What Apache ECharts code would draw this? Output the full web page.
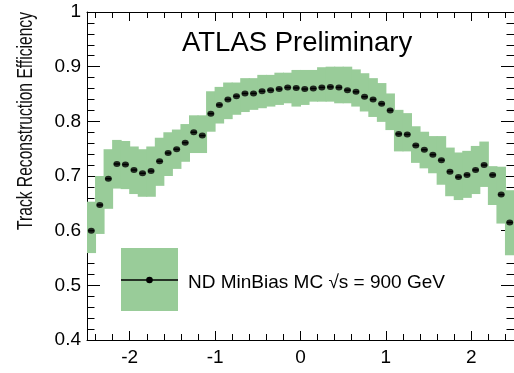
<!DOCTYPE html>
<html>
<head>
<meta charset="utf-8">
<script src="https://cdn.jsdelivr.net/npm/echarts@6.0.0/dist/echarts.min.js"></script>
<style>
  html, body { margin: 0; padding: 0; background: #fff; }
  #chart { width: 514px; height: 373px; }
</style>
</head>
<body>
<div id="chart"></div>
<script>
// eta bin centres
const etaBins = [
  -2.45, -2.35, -2.25, -2.15, -2.05, -1.95, -1.85, -1.75, -1.65, -1.55,
  -1.45, -1.35, -1.25, -1.15, -1.05, -0.95, -0.85, -0.75, -0.65, -0.55,
  -0.45, -0.35, -0.25, -0.15, -0.05, 0.05, 0.15, 0.25, 0.35, 0.45,
  0.55, 0.65, 0.75, 0.85, 0.95, 1.05, 1.15, 1.25, 1.35, 1.45,
  1.55, 1.65, 1.75, 1.85, 1.95, 2.05, 2.15, 2.25, 2.35, 2.45
];
const efficiency = [
  0.600, 0.647, 0.695, 0.722, 0.721, 0.711, 0.705, 0.709, 0.727, 0.742,
  0.749, 0.761, 0.780, 0.774, 0.814, 0.830, 0.840, 0.846, 0.851, 0.851,
  0.855, 0.857, 0.859, 0.862, 0.861, 0.859, 0.860, 0.862, 0.863, 0.862,
  0.857, 0.854, 0.845, 0.840, 0.832, 0.820, 0.777, 0.776, 0.756, 0.748,
  0.739, 0.729, 0.708, 0.698, 0.702, 0.711, 0.720, 0.702, 0.666, 0.615
];
// systematic band (upper / lower edge per bin)
const bandUpper = [
  0.653, 0.700, 0.749, 0.766, 0.764, 0.754, 0.749, 0.754, 0.770, 0.780,
  0.785, 0.795, 0.811, 0.811, 0.855, 0.863, 0.871, 0.871, 0.879, 0.879,
  0.885, 0.885, 0.889, 0.889, 0.894, 0.894, 0.894, 0.899, 0.900, 0.900,
  0.900, 0.895, 0.888, 0.879, 0.870, 0.851, 0.821, 0.815, 0.791, 0.781,
  0.773, 0.773, 0.752, 0.743, 0.746, 0.755, 0.763, 0.718, 0.717, 0.674
];
const bandLower = [
  0.559, 0.594, 0.640, 0.677, 0.676, 0.667, 0.662, 0.662, 0.682, 0.700,
  0.713, 0.726, 0.742, 0.742, 0.781, 0.796, 0.804, 0.812, 0.817, 0.821,
  0.824, 0.827, 0.830, 0.833, 0.827, 0.830, 0.836, 0.836, 0.836, 0.833,
  0.833, 0.827, 0.818, 0.808, 0.799, 0.784, 0.745, 0.745, 0.724, 0.714,
  0.705, 0.684, 0.663, 0.656, 0.660, 0.667, 0.680, 0.647, 0.613, 0.555
];

const xMajorTicks = [-2, -1, 0, 1, 2];
const xMinorTicks = [-2.4, -2.2, -1.8, -1.6, -1.4, -1.2, -0.8, -0.6, -0.4, -0.2,
  0.2, 0.4, 0.6, 0.8, 1.2, 1.4, 1.6, 1.8, 2.2, 2.4];
const yMajorTicks = [0.4, 0.5, 0.6, 0.7, 0.8, 0.9, 1];
const yMinorTicks = [0.42, 0.44, 0.46, 0.48, 0.52, 0.54, 0.56, 0.58, 0.62, 0.64, 0.66, 0.68,
  0.72, 0.74, 0.76, 0.78, 0.82, 0.84, 0.86, 0.88, 0.92, 0.94, 0.96, 0.98];

const bandColor = '#99cc99';
const fontName = 'Liberation Sans, Arial, sans-serif';
const labelFont = { color: '#000', fontSize: 19, fontFamily: fontName };

function axisDef(kind, position, ticks, len, withLine, withLabels) {
  return {
    type: 'value',
    min: kind === 'x' ? -2.5 : 0.4,
    max: kind === 'x' ? 2.5 : 1,
    position: position,
    axisLine: { show: withLine, onZero: false, lineStyle: { color: '#000', width: 1 } },
    axisTick: { show: true, inside: true, length: len, customValues: ticks, lineStyle: { color: '#000', width: 1 } },
    axisLabel: withLabels
      ? Object.assign({ show: true, margin: kind === 'x' ? 8 : 6, customValues: ticks }, labelFont)
      : { show: false },
    splitLine: { show: false }
  };
}

let chart = echarts.init(document.getElementById('chart'));

let option = {
  animation: false,
  backgroundColor: '#fff',
  grid: { left: 87, top: 12, width: 433.5, height: 328 },
  xAxis: [
    axisDef('x', 'bottom', xMajorTicks, 9, true, true),
    axisDef('x', 'bottom', xMinorTicks, 6, false, false),
    axisDef('x', 'top', xMajorTicks, 9, true, false),
    axisDef('x', 'top', xMinorTicks, 6, false, false)
  ],
  yAxis: [
    axisDef('y', 'left', yMajorTicks, 13, true, true),
    axisDef('y', 'left', yMinorTicks, 7.5, false, false),
    axisDef('y', 'right', yMajorTicks, 13, true, false),
    axisDef('y', 'right', yMinorTicks, 7.5, false, false)
  ],
  series: [
    {
      // green systematic band, one box per eta bin
      type: 'custom',
      clip: true,
      data: etaBins.map((x, i) => [x, bandLower[i], bandUpper[i]]),
      renderItem: (params, api) => {
        const p1 = api.coord([api.value(0) - 0.05, api.value(2)]);
        const p2 = api.coord([api.value(0) + 0.05, api.value(1)]);
        return {
          type: 'rect',
          shape: { x: p1[0] - 0.5, y: p1[1], width: p2[0] - p1[0] + 1, height: p2[1] - p1[1] },
          style: { fill: bandColor }
        };
      },
      z: 1
    },
    {
      // short horizontal bars on the points
      type: 'custom',
      clip: true,
      data: etaBins.map((x, i) => [x, efficiency[i]]),
      renderItem: (params, api) => {
        const a = api.coord([api.value(0) - 0.035, api.value(1)]);
        const b = api.coord([api.value(0) + 0.035, api.value(1)]);
        return {
          type: 'line',
          shape: { x1: a[0], y1: a[1], x2: b[0], y2: b[1] },
          style: { stroke: '#000', lineWidth: 1.5 }
        };
      },
      z: 2
    },
    {
      type: 'scatter',
      data: etaBins.map((x, i) => [x, efficiency[i]]),
      symbol: 'circle',
      symbolSize: [7, 6],
      itemStyle: { color: '#000' },
      z: 3
    }
  ],
  graphic: [
    {
      type: 'text', z: 10, x: 182, y: 43.5,
      style: { text: 'ATLAS Preliminary', fill: '#000', fontSize: 27.5,
        fontFamily: fontName, verticalAlign: 'middle' }
    },
    {
      // condensed y-axis title, as in the original
      type: 'text', z: 10, rotation: Math.PI / 2, x: 26, y: 121, scaleX: 0.71, scaleY: 1,
      style: { text: 'Track Reconstruction Efficiency', fill: '#111', fontSize: 22,
        fontFamily: fontName, align: 'center', verticalAlign: 'middle' }
    },
    {
      type: 'rect', z: 10, x: 121, y: 248,
      shape: { width: 57, height: 63 }, style: { fill: bandColor }
    },
    {
      type: 'line', z: 11,
      shape: { x1: 121, y1: 280, x2: 178, y2: 280 }, style: { stroke: '#000', lineWidth: 1.5 }
    },
    {
      type: 'circle', z: 12,
      shape: { cx: 149.5, cy: 280, r: 3.3 }, style: { fill: '#000' }
    },
    {
      type: 'text', z: 10, x: 188, y: 283,
      style: { text: 'ND MinBias MC \u221As = 900 GeV', fill: '#000', fontSize: 19,
        fontFamily: fontName, verticalAlign: 'middle' }
    }
  ]
};

chart.setOption(option);
</script>
</body>
</html>
